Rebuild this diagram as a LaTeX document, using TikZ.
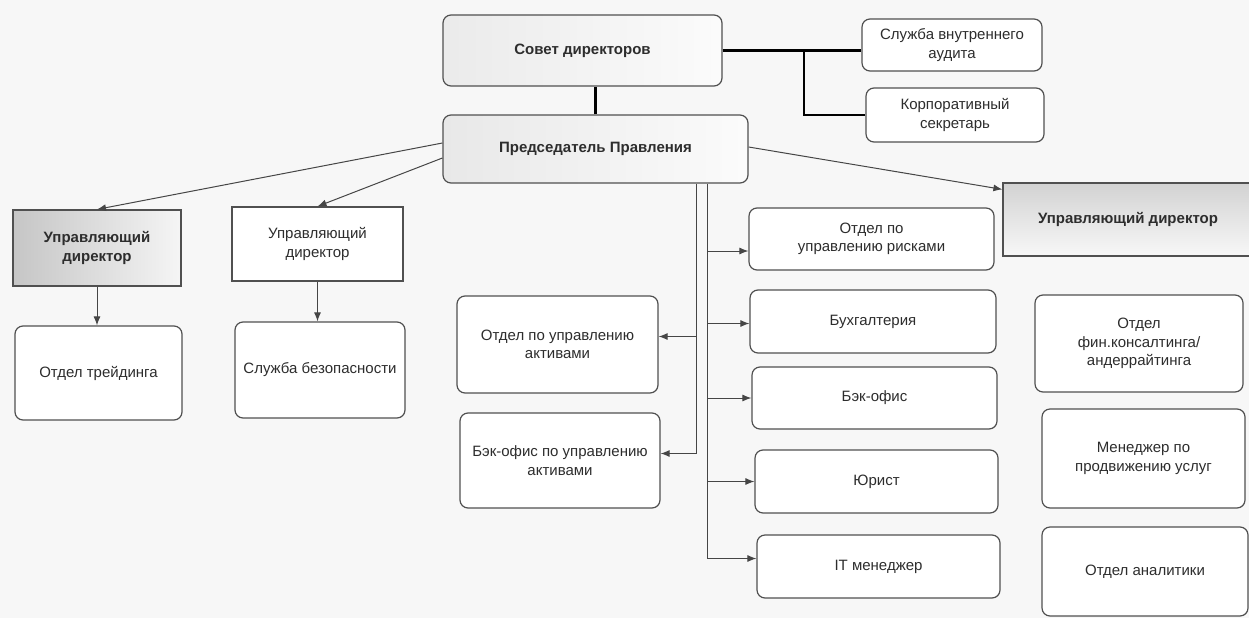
\documentclass[tikz,border=0pt]{standalone}
\usepackage{fontspec}
\setmainfont{Liberation Sans}
\usetikzlibrary{arrows.meta}
\definecolor{bgc}{RGB}{247,247,247}
\definecolor{boxc}{RGB}{80,80,80}
\definecolor{txt}{RGB}{45,45,45}
\definecolor{linec}{RGB}{70,70,70}
\newcommand\fs{\fontsize{15}{18.5}\selectfont}
\begin{document}
\begin{tikzpicture}[x=1pt,y=-1pt,
  box/.style={draw=boxc, line width=1.2pt, rounded corners=8pt, align=center, inner sep=2pt, text=txt, font=\fs, fill=white},
  sq/.style={box, rounded corners=0pt},
  bftext/.style={font=\fs\bfseries},
  link/.style={draw=linec, line width=1pt},
  arr/.style={link, -{Latex[length=9pt,width=7pt]}},
  heavy/.style={draw=black, line width=2.6pt}
]
\clip (0,0) rectangle (1249,618);
\fill[bgc] (0,0) rectangle (1249,618);

% top
\node[box, bftext, left color=gray!16, right color=gray!3, minimum width=279pt, minimum height=71pt] (sovet) at (582.5,50.5) {Совет директоров};
\node[box, bftext, left color=gray!18, right color=gray!3, minimum width=305pt, minimum height=68pt] (pred) at (595.5,149) {Председатель Правления};
\node[box, minimum width=180pt, minimum height=52pt] (audit) at (952,45) {Служба внутреннего\\аудита};
\node[box, minimum width=178pt, minimum height=54pt] (sekr) at (955,115) {Корпоративный\\секретарь};

% left
\node[sq, bftext, left color=gray!45, right color=gray!8, minimum width=168pt, minimum height=76pt] (ud1) at (97,248) {Управляющий\\директор};
\node[box, minimum width=167pt, minimum height=94pt] (trade) at (98.5,373) {Отдел трейдинга};
\node[sq, minimum width=171pt, minimum height=74pt] (ud2) at (317.5,244) {Управляющий\\директор};
\node[box, minimum width=170pt, minimum height=96pt] (sec) at (320,370) {Служба безопасности};

% middle
\node[box, minimum width=201pt, minimum height=97pt] (aktiv) at (557.5,344.5) {Отдел по управлению\\активами};
\node[box, minimum width=200pt, minimum height=95pt] (bkaktiv) at (560,460.5) {Бэк-офис по управлению\\активами};
\node[box, minimum width=245pt, minimum height=62pt] (risk) at (871.5,239) {Отдел по\\управлению рисками};
\node[box, minimum width=246pt, minimum height=63pt] (buh) at (873,321.5) {Бухгалтерия};
\node[box, minimum width=245pt, minimum height=62pt] (bko) at (874.5,398) {Бэк-офис};
\node[box, minimum width=243pt, minimum height=63pt] (jur) at (876.5,481.5) {Юрист};
\node[box, minimum width=243pt, minimum height=63pt] (it) at (878.5,566.5) {IT менеджер};

% right
\node[sq, bftext, top color=gray!35, bottom color=gray!6, minimum width=250pt, minimum height=73pt] (ud3) at (1128,219.5) {Управляющий директор};
\node[box, minimum width=208pt, minimum height=97pt] (fin) at (1139,343.5) {Отдел\\фин.консалтинга/\\андеррайтинга};
\node[box, minimum width=203pt, minimum height=99pt] (men) at (1143.5,458.5) {Менеджер по\\продвижению услуг};
\node[box, minimum width=206pt, minimum height=89pt] (anal) at (1145,571.5) {Отдел аналитики};

% heavy connectors
\coordinate (busT) at (804,0);
\draw[heavy] (pred.north) -- (pred.north |- sovet.south);
\draw[heavy] (sovet.east) -- (sovet.east -| audit.west);
\draw[heavy] (sovet.east -| busT) |- (sekr.west);

% arrows from chairman
\draw[arr] ([yshift=6pt]pred.west) -- (ud1.north);
\draw[arr] ([yshift=-9pt]pred.west) -- (ud2.north);
\draw[arr] ([yshift=2pt]pred.east) -- ([yshift=-7pt]ud3.north west);
\draw[arr] (ud1.south) -- (ud1.south |- trade.north);
\draw[arr] (ud2.south) -- (ud2.south |- sec.north);

% left bus
\coordinate (busL) at (696,0);
\coordinate (aktin) at ([yshift=8pt]aktiv.east);
\coordinate (bkin) at ([yshift=7pt]bkaktiv.east);
\draw[link] (pred.south -| busL) -- (busL |- bkin);
\draw[arr] (busL |- aktin) -- (aktin);
\draw[arr] (busL |- bkin) -- (bkin);

% right bus
\coordinate (busR) at (707,0);
\coordinate (riskin) at ([yshift=-12pt]risk.west);
\coordinate (buhin) at ([yshift=-2pt]buh.west);
\coordinate (bkoin) at (bko.west);
\coordinate (jurin) at (jur.west);
\coordinate (itin) at ([yshift=8pt]it.west);
\draw[link] (pred.south -| busR) -- (busR |- itin);
\draw[arr] (busR |- riskin) -- (riskin);
\draw[arr] (busR |- buhin) -- (buhin);
\draw[arr] (busR |- bkoin) -- (bkoin);
\draw[arr] (busR |- jurin) -- (jurin);
\draw[arr] (busR |- itin) -- (itin);
\end{tikzpicture}
\end{document}
